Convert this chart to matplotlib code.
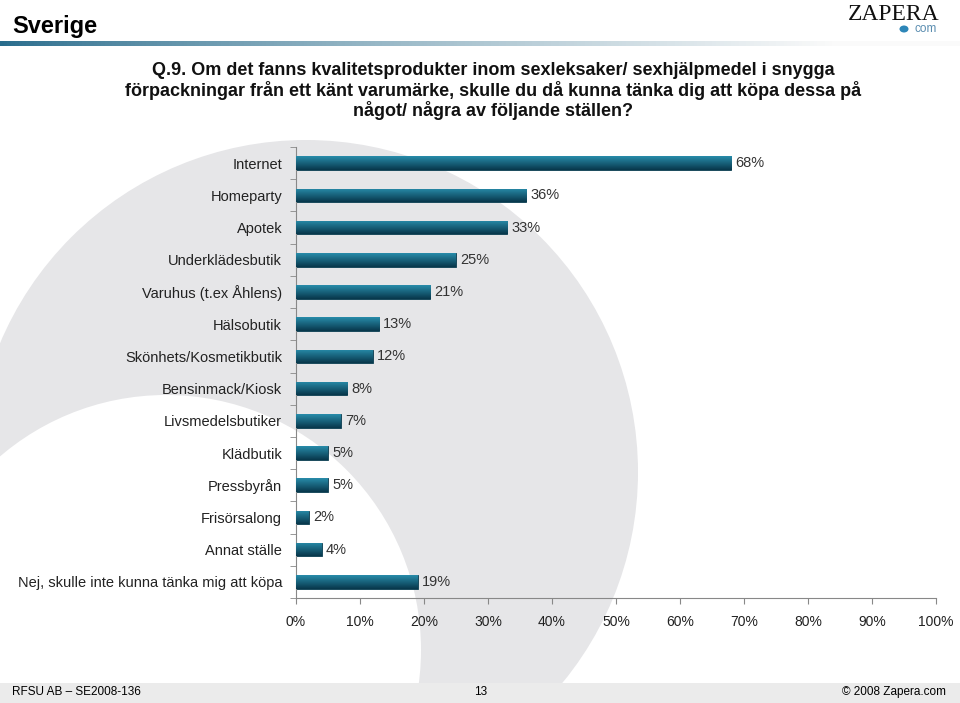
import matplotlib.pyplot as plt
import numpy as np
from matplotlib.patches import Circle, Rectangle, Ellipse

# data
categories = ["Internet", "Homeparty", "Apotek", "Underklädesbutik",
              "Varuhus (t.ex Åhlens)", "Hälsobutik", "Skönhets/Kosmetikbutik",
              "Bensinmack/Kiosk", "Livsmedelsbutiker", "Klädbutik", "Pressbyrån",
              "Frisörsalong", "Annat ställe", "Nej, skulle inte kunna tänka mig att köpa"]
values = [68, 36, 33, 25, 21, 13, 12, 8, 7, 5, 5, 2, 4, 19]
xticks = [0, 10, 20, 30, 40, 50, 60, 70, 80, 90, 100]

title = ("Q.9. Om det fanns kvalitetsprodukter inom sexleksaker/ sexhjälpmedel i snygga\n"
         "förpackningar från ett känt varumärke, skulle du då kunna tänka dig att köpa dessa på\n"
         "något/ några av följande ställen?")

plt.rcParams['font.family'] = ['Liberation Sans', 'DejaVu Sans']

W, H = 960, 703
fig = plt.figure(figsize=(W / 100, H / 100), dpi=100)

# background layer in pixel coordinates
bg = fig.add_axes([0, 0, 1, 1], zorder=0)
bg.set_xlim(0, W)
bg.set_ylim(H, 0)
bg.axis('off')
bg.add_patch(Circle((306, 472), 332, color='#e6e6e8', lw=0))
bg.add_patch(Circle((166, 650), 255, color='white', lw=0))
bg.add_patch(Rectangle((0, 683), W, 20, color='#ebebeb', lw=0))

# header gradient line
grad = np.linspace(0, 1, 256)
c0 = np.array([40, 108, 140]) / 255
c1 = np.array([250, 250, 250]) / 255
t = np.clip(grad * 1.15, 0, 1) ** 0.8
line_img = (c0[None, :] * (1 - t[:, None]) + c1[None, :] * t[:, None])[None, :, :]
bg.imshow(line_img, extent=[0, W, 46, 41], aspect='auto', zorder=1)
bg.set_xlim(0, W)
bg.set_ylim(H, 0)

fig.text(12 / W, 1 - 27 / H, "Sverige", fontsize=17, fontweight='bold',
         va='center', ha='left', color='black')

# logo
fig.text(894 / W, 1 - 14 / H, "ZAPERA", family='Liberation Serif', fontsize=17,
         ha='center', va='center', color='#111111')
bg.add_patch(Ellipse((904, 29), 9, 7, color='#2d86b8', lw=0))
fig.text(926 / W, 1 - 29 / H, "com", fontsize=8.5, ha='center', va='center', color='#5a8db0')

fig.text(493 / W, 1 - 91 / H, title, fontsize=13, fontweight='bold',
         ha='center', va='center', linespacing=1.1, color='#111111')

# chart
ax = fig.add_axes([296 / W, 1 - 598 / H, 640 / W, 451 / H], zorder=2)
ax.patch.set_alpha(0)
y = np.arange(len(categories))
bars = ax.barh(y, values, height=0.42, color='#176c8a', edgecolor='#0b3b4d', linewidth=0.6)

# vertical gradient inside each bar
shade = np.linspace(0, 1, 64)[:, None]
top = np.array([40, 140, 170]) / 255
bot = np.array([8, 55, 75]) / 255
bar_img = top[None, None, :] * (1 - shade[:, :, None]) + bot[None, None, :] * shade[:, :, None]
for b in bars:
    x0, y0 = b.get_x(), b.get_y()
    im = ax.imshow(bar_img, extent=[x0, x0 + b.get_width(), y0 + b.get_height(), y0],
                   aspect='auto', zorder=3)
    im.set_clip_path(b)

for yi, v in zip(y, values):
    ax.annotate(f"{v}%", (v, yi), xytext=(3, 0), textcoords='offset points',
                va='center', ha='left', fontsize=10.5, color='#333333')

ax.set_xlim(0, 100)
ax.set_ylim(len(categories) - 0.5, -0.5)
ax.set_xticks(xticks)
ax.set_xticklabels([f"{v}%" for v in xticks], fontsize=10, color='#222222')
ax.set_yticks(y)
ax.set_yticklabels(categories, fontsize=10.5, color='#222222')
ax.set_yticks(np.arange(len(categories) + 1) - 0.5, minor=True)
ax.tick_params(axis='y', which='major', length=0, pad=10)
ax.tick_params(axis='y', which='minor', length=4, color='#888888', direction='out')
ax.tick_params(axis='x', length=4, color='#888888', pad=8)
for s in ['top', 'right']:
    ax.spines[s].set_visible(False)
for s in ['left', 'bottom']:
    ax.spines[s].set_color('#888888')
    ax.spines[s].set_linewidth(0.8)

# footer
fig.text(12 / W, 1 - 692 / H, "RFSU AB – SE2008-136", fontsize=8.5, va='center', ha='left')
fig.text(481 / W, 1 - 692 / H, "13", fontsize=8.5, va='center', ha='center')
fig.text(946 / W, 1 - 692 / H, "© 2008 Zapera.com", fontsize=8.5, va='center', ha='right')

fig.savefig("out.png", dpi=100)
